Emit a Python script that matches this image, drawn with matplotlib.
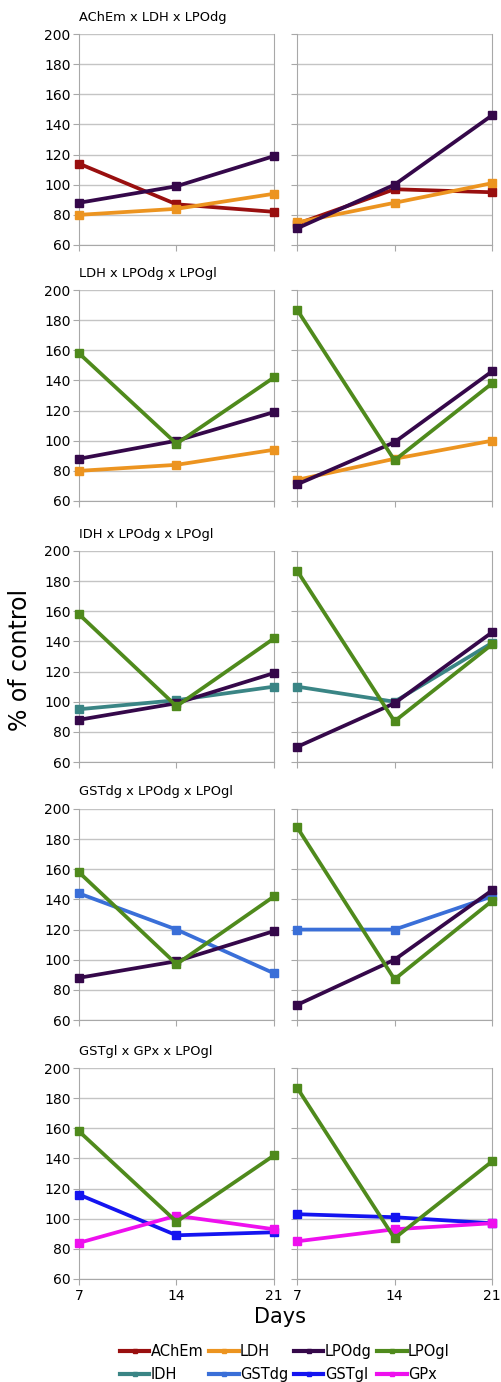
import matplotlib
matplotlib.use("Agg")
import matplotlib.pyplot as plt
from matplotlib.lines import Line2D

days = [7, 14, 21]

titles = [
    "AChEm x LDH x LPOdg",
    "LDH x LPOdg x LPOgl",
    "IDH x LPOdg x LPOgl",
    "GSTdg x LPOdg x LPOgl",
    "GSTgl x GPx x LPOgl",
]

# series shown in each row: (name, left-panel values, right-panel values)
row1 = [
    ("AChEm", [114, 87, 82], [74, 97, 95]),
    ("LDH", [80, 84, 94], [75, 88, 101]),
    ("LPOdg", [88, 99, 119], [71, 100, 146]),
]
row2 = [
    ("LDH", [80, 84, 94], [74, 88, 100]),
    ("LPOdg", [88, 100, 119], [71, 99, 146]),
    ("LPOgl", [158, 98, 142], [187, 87, 138]),
]
row3 = [
    ("IDH", [95, 101, 110], [110, 100, 139]),
    ("LPOdg", [88, 99, 119], [70, 99, 146]),
    ("LPOgl", [158, 97, 142], [187, 87, 138]),
]
row4 = [
    ("GSTdg", [144, 120, 91], [120, 120, 142]),
    ("LPOdg", [88, 99, 119], [70, 100, 146]),
    ("LPOgl", [158, 97, 142], [188, 87, 139]),
]
row5 = [
    ("GSTgl", [116, 89, 91], [103, 101, 97]),
    ("GPx", [84, 102, 93], [85, 93, 97]),
    ("LPOgl", [158, 98, 142], [187, 87, 138]),
]
rows = [row1, row2, row3, row4, row5]

colors = {
    "AChEm": "#990f0f",
    "LDH": "#ec9420",
    "LPOdg": "#35084a",
    "LPOgl": "#4f8a1c",
    "IDH": "#3a8585",
    "GSTdg": "#3a6fd8",
    "GSTgl": "#1414f0",
    "GPx": "#ee10ee",
}
# column-major order so rows read AChEm..LPOgl / IDH..GPx
legend_order = ["AChEm", "IDH", "LDH", "GSTdg", "LPOdg", "GSTgl", "LPOgl", "GPx"]

W, H = 502, 1382
fig = plt.figure(figsize=(W / 100, H / 100), dpi=100)
plt.rcParams["font.family"] = ["DejaVu Sans"]

tops = [34, 290, 551, 809, 1068]
ph = 211
lefts = [79, 297]
pw = 195
grid_c = "#c4c4c4"
spine_c = "#a8a8a8"

for i, series in enumerate(rows):
    for j in range(2):
        ax = fig.add_axes([lefts[j] / W, 1 - (tops[i] + ph) / H, pw / W, ph / H])
        for name, lv, rv in series:
            vals = lv if j == 0 else rv
            ax.plot(days, vals, color=colors[name], lw=2.7, marker="s",
                    markersize=6, clip_on=False, zorder=3)
        ax.set_xlim(7, 21)
        ax.set_ylim(60, 200)
        ax.set_yticks(range(60, 201, 20))
        ax.set_xticks(days)
        ax.yaxis.grid(True, color=grid_c, lw=1)
        for s in ["left", "right", "bottom"]:
            ax.spines[s].set_color(spine_c)
        ax.spines["top"].set_visible(False)
        ax.tick_params(axis="both", length=4, color=spine_c, labelsize=10,
                       pad=2)
        if j == 1:
            ax.tick_params(axis="y", labelleft=False)
        if i < 4:
            ax.tick_params(axis="x", labelbottom=False)
        else:
            ax.tick_params(axis="x", pad=3)
    fig.text(lefts[0] / W, 1 - (tops[i] - 17) / H, titles[i],
             fontsize=9.4, va="center", ha="left")

fig.text(20 / W, 1 - 660 / H, "% of control", rotation=90, fontsize=17,
         va="center", ha="center")
fig.text(280 / W, 1 - 1317 / H, "Days", fontsize=15, va="center",
         ha="center")

handles = [Line2D([], [], color=colors[n], lw=3, marker="s", markersize=3)
           for n in legend_order]
fig.legend(handles, legend_order, ncol=4, loc="center",
           bbox_to_anchor=(285 / W, 1 - 1363 / H), frameon=False,
           fontsize=10.5, handlelength=2.0, handletextpad=0.1,
           columnspacing=0.4, labelspacing=0.5, borderpad=0)

fig.savefig("out.png", dpi=100)
